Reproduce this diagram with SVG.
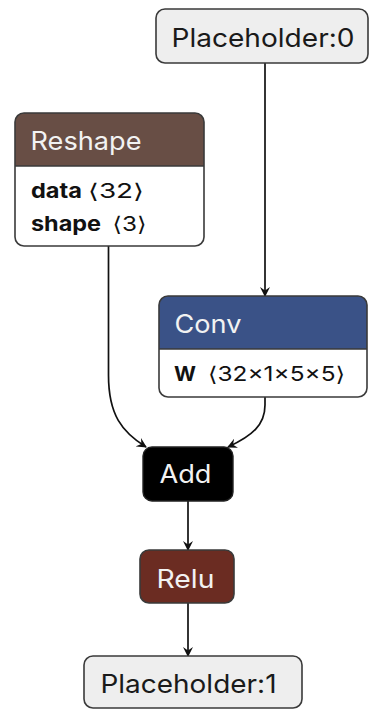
<svg xmlns="http://www.w3.org/2000/svg" width="370" height="710" viewBox="0 0 370 710">
  <style>
    text { font-family: Inter, "Liberation Sans", "DejaVu Sans", sans-serif; }
    .title { font-size: 25.5px; }
    .light { fill: #eeeeee; stroke: #3a3a3a; stroke-width: 1.6; }
    .hdr-text { fill: #f2f2f2; }
    .dark-text { fill: #1a1a1a; }
    .attr { font-size: 20.5px; fill: #111111; }
    .attr .name { font-weight: bold; }
    .sep { stroke: #3a3a3a; stroke-width: 1.4; }
    .edge { fill: none; stroke: #111111; stroke-width: 1.7; marker-end: url(#arrow); }
  </style>
  <defs>
    <marker id="arrow" viewBox="0 0 10 10" refX="9" refY="5" markerWidth="10" markerHeight="10" markerUnits="userSpaceOnUse" orient="auto">
      <path d="M0,0 L10,5 L0,10 L3.5,5 Z" fill="#111111"/>
    </marker>
    <clipPath id="clip-reshape"><rect x="15" y="113" width="189" height="133" rx="9"/></clipPath>
    <clipPath id="clip-conv"><rect x="159" y="296" width="208" height="101" rx="9"/></clipPath>
  </defs>

  <g id="edges">
    <path class="edge" d="M265,63 L265,296"/>
    <path class="edge" d="M108.5,246 L108.5,375 C108.5,415 122,432 146,447"/>
    <path class="edge" d="M265,397 L265,405 C265,425 252,436 228,447"/>
    <path class="edge" d="M188,501 L188,550"/>
    <path class="edge" d="M188,603 L188,656"/>
  </g>

  <g id="node-placeholder0">
    <rect class="light" x="156" y="9" width="212" height="54" rx="9"/>
    <text class="title dark-text" x="171.5" y="46.5" textLength="183" lengthAdjust="spacingAndGlyphs">Placeholder:0</text>
  </g>

  <g id="node-reshape">
    <rect x="15" y="113" width="189" height="133" rx="9" fill="#ffffff"/>
    <rect x="15" y="113" width="189" height="53" fill="#684e45" clip-path="url(#clip-reshape)"/>
    <line class="sep" x1="15" y1="166" x2="204" y2="166"/>
    <rect x="15" y="113" width="189" height="133" rx="9" fill="none" stroke="#3a3a3a" stroke-width="1.6"/>
    <text class="title hdr-text" x="30.5" y="149.5" textLength="111" lengthAdjust="spacingAndGlyphs">Reshape</text>
    <text class="attr" y="198"><tspan class="name" x="31" textLength="51" lengthAdjust="spacingAndGlyphs">data</tspan> <tspan x="88" textLength="56" lengthAdjust="spacingAndGlyphs">⟨32⟩</tspan></text>
    <text class="attr" y="231"><tspan class="name" x="31" textLength="70" lengthAdjust="spacingAndGlyphs">shape</tspan> <tspan x="112.5" textLength="34" lengthAdjust="spacingAndGlyphs">⟨3⟩</tspan></text>
  </g>

  <g id="node-conv">
    <rect x="159" y="296" width="208" height="101" rx="9" fill="#ffffff"/>
    <rect x="159" y="296" width="208" height="53" fill="#3a5287" clip-path="url(#clip-conv)"/>
    <line class="sep" x1="159" y1="349" x2="367" y2="349"/>
    <rect x="159" y="296" width="208" height="101" rx="9" fill="none" stroke="#3a3a3a" stroke-width="1.6"/>
    <text class="title hdr-text" x="174.5" y="333" textLength="67" lengthAdjust="spacingAndGlyphs">Conv</text>
    <text class="attr" y="381"><tspan class="name" x="174" textLength="22" lengthAdjust="spacingAndGlyphs">W</tspan> <tspan x="208" textLength="137" lengthAdjust="spacingAndGlyphs">⟨32×1×5×5⟩</tspan></text>
  </g>

  <g id="node-add">
    <rect x="143" y="447" width="90" height="54" rx="9" fill="#000000" stroke="#222222" stroke-width="1.4"/>
    <text class="title hdr-text" x="159.5" y="483" textLength="52" lengthAdjust="spacingAndGlyphs">Add</text>
  </g>

  <g id="node-relu">
    <rect x="140" y="550" width="94" height="53" rx="9" fill="#6b2c22" stroke="#3a3a3a" stroke-width="1.6"/>
    <text class="title hdr-text" x="156.5" y="588" textLength="58" lengthAdjust="spacingAndGlyphs">Relu</text>
  </g>

  <g id="node-placeholder1">
    <rect class="light" x="84" y="656" width="218" height="52" rx="9"/>
    <text class="title dark-text" x="100.5" y="693" textLength="176" lengthAdjust="spacingAndGlyphs">Placeholder:1</text>
  </g>
</svg>
